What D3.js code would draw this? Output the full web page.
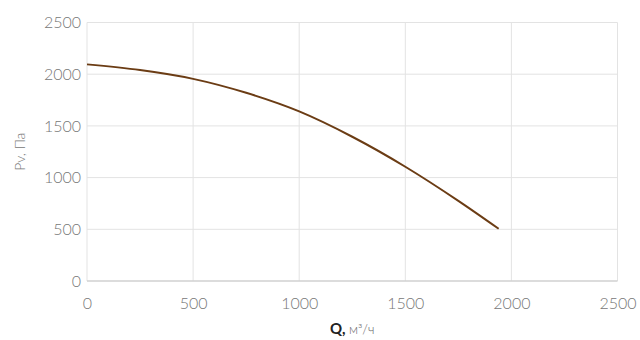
<!DOCTYPE html>
<html><head><meta charset="utf-8">
<script src="https://cdn.jsdelivr.net/npm/d3@7"></script>
<style>
body{margin:0;background:#fff;}
text{font-family:"Lato","Noto Sans",sans-serif;}
</style></head>
<body><svg id="c" width="640" height="340"></svg>
<script>
const flow = [0, 250, 500, 750, 1000, 1250, 1500, 1750, 1940];
const pressure = [2095, 2040, 1955, 1820, 1640, 1395, 1105, 775, 505];
const xTicks = [0, 500, 1000, 1500, 2000, 2500];
const yTicks = [0, 500, 1000, 1500, 2000, 2500];
const xTitleBold = "Q,";
const xTitleRest = " м³/ч";
const yTitle = "Pv, Па";

const svg = d3.select("#c");
const m = {l:87, r:22.5, t:22.5, b:59};
const W = 640, H = 340;
const x = d3.scaleLinear().domain([0,2500]).range([m.l, W-m.r]);
const y = d3.scaleLinear().domain([0,2500]).range([H-m.b, m.t]);

// gridlines
svg.append("g").selectAll("line").data(xTicks).join("line")
  .attr("x1",d=>x(d)).attr("x2",d=>x(d)).attr("y1",y(0)).attr("y2",y(2500))
  .attr("stroke","#e3e3e3").attr("stroke-width",1);
svg.append("g").selectAll("line").data(yTicks).join("line")
  .attr("x1",x(0)).attr("x2",x(2500)).attr("y1",d=>y(d)).attr("y2",d=>y(d))
  .attr("stroke",d=>d===0?"#d0d0d0":"#e3e3e3").attr("stroke-width",d=>d===0?1.5:1);

// axes via d3
const xAxis = svg.append("g").attr("transform",`translate(0,${y(0)})`)
  .call(d3.axisBottom(x).tickValues(xTicks).tickSize(0).tickPadding(17).tickFormat(d3.format("d")));
const yAxis = svg.append("g").attr("transform",`translate(${x(0)},0)`)
  .call(d3.axisLeft(y).tickValues(yTicks).tickSize(0).tickPadding(6).tickFormat(d3.format("d")));
[xAxis,yAxis].forEach(a=>{
  a.select(".domain").remove();
  a.selectAll("text").attr("fill","#777").style("font-size","16px").style("font-weight","300");
});

// curve
const line = d3.line().x((d,i)=>x(flow[i])).y(d=>y(d)).curve(d3.curveMonotoneX);
svg.append("path").datum(pressure).attr("d",line)
  .attr("fill","none").attr("stroke","#6b3c14").attr("stroke-width",2);

// titles
const xt = svg.append("text").attr("x",(x(0)+x(2500))/2).attr("y",334)
  .attr("text-anchor","middle").style("font-size","15px");
xt.append("tspan").text(xTitleBold).attr("fill","#222").style("font-weight","700");
xt.append("tspan").text(xTitleRest).attr("fill","#666").style("font-size","13px").style("font-weight","300");

svg.append("text").attr("transform",`translate(25,${(y(0)+y(2500))/2}) rotate(-90)`)
  .attr("text-anchor","middle").attr("fill","#777").style("font-size","14px").style("font-weight","300")
  .text(yTitle);
</script></body></html>
